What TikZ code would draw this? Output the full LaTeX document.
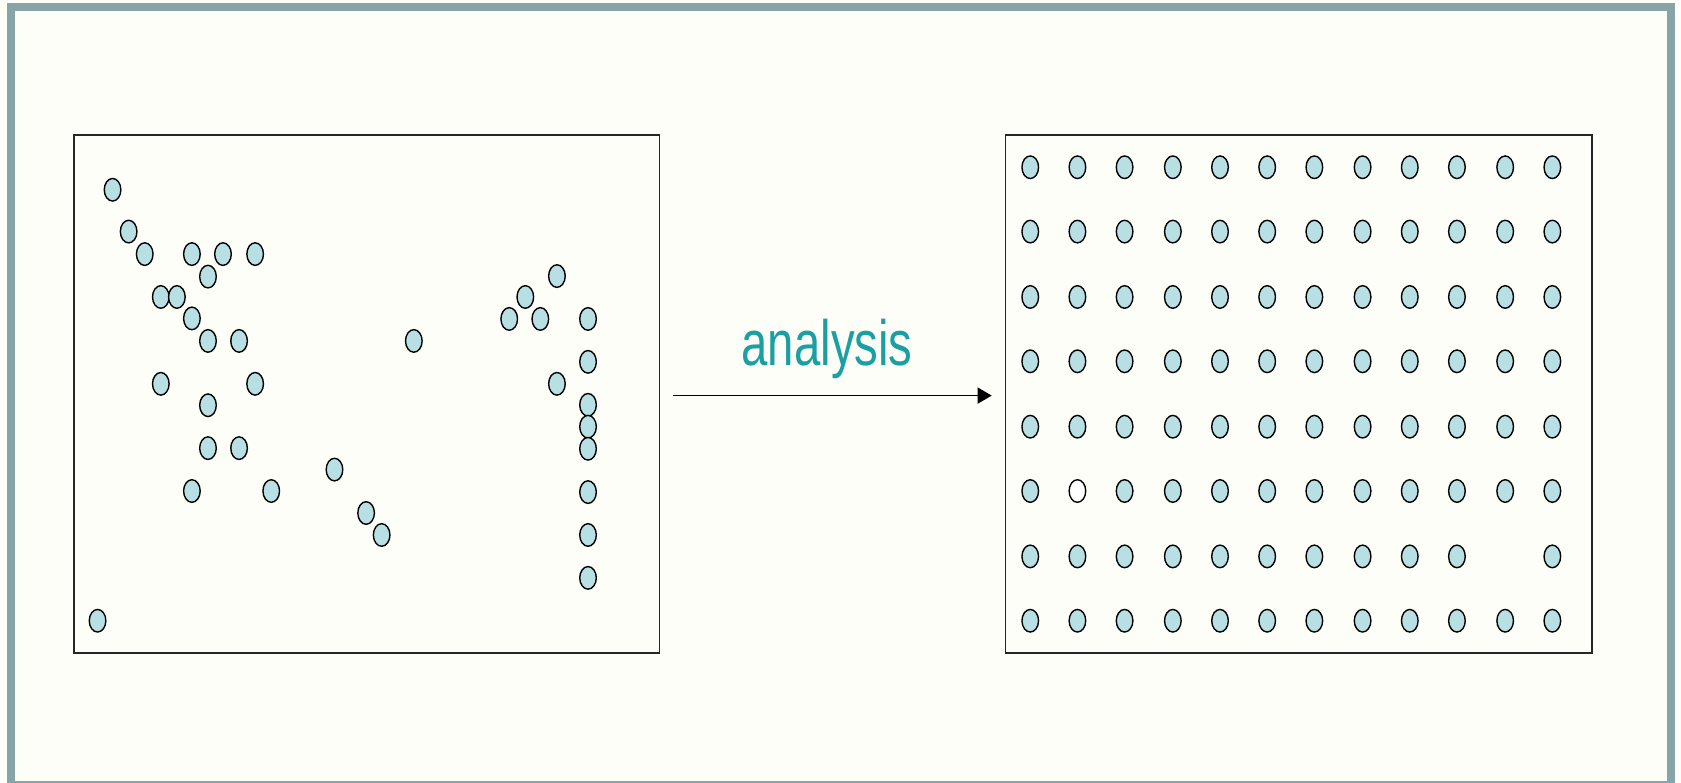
\documentclass[tikz,border=0pt]{standalone}
\usepackage{fontspec}
\setmainfont{Liberation Sans}
\usetikzlibrary{shapes.geometric,arrows.meta}
\definecolor{bgcol}{HTML}{FDFEF8}
\definecolor{framecol}{HTML}{87A4A8}
\definecolor{dotcol}{HTML}{B8DFE3}
\definecolor{labcol}{HTML}{1A9FA3}
\tikzset{
  dot/.style={ellipse,draw=black,line width=0.7pt,fill=dotcol,minimum width=8.3pt,minimum height=11.3pt,inner sep=0pt},
  hole/.style={dot,fill=white},
  panel/.style={draw=black!85,line width=0.8pt},
  flow/.style={-{Triangle[length=7pt,width=8pt]},line width=0.8pt,black}
}
\begin{document}
\begin{tikzpicture}[x=0.53605pt,y=-0.53605pt]
\useasboundingbox (0,0) rectangle (1568,730.35);
\fill[bgcol] (0,0) rectangle (1568,730.35);
\draw[framecol,line width=4pt] (9.8,6.5) rectangle (1558.6,732);
% panels
\draw[panel] (69,126) rectangle (615,609);
\draw[panel] (938,126) rectangle (1485,609);
% scattered dots
\foreach \p [count=\i] in {(105,177),(120,216),(135,237),(179,237),(208,237),(238,237),(194,258),(150,277),(165,277),(179,297),(194,318),(223,318),(150,358),(238,358),(194,378),(194,418),(223,418),(179,458),(253,458),(312,438),(341.5,478.5),(356,499),(91,579),(386,318),(475,297.5),(490,277),(504,297.5),(519.5,257.5),(548.5,297.5),(548.5,337.5),(519.5,358),(548.5,377.6),(548.5,398),(548.5,418.6),(548.5,459),(548.5,499),(548.5,539)}
  \node[dot] (s\i) at \p {};
% grid dots
\foreach \c [count=\ci] in {961,1005,1049,1094,1138,1182,1226,1271,1315,1359,1404,1448}{
  \foreach \r [count=\ri] in {156,216,277,337,398,458,519,579}{
    \ifnum\ri=7 \ifnum\ci=11 \else \node[dot] (g\ci-\ri) at (\c,\r) {};\fi
    \else\ifnum\ri=6 \ifnum\ci=2 \node[hole] (g\ci-\ri) at (\c,\r) {};\else \node[dot] (g\ci-\ri) at (\c,\r) {};\fi
    \else \node[dot] (g\ci-\ri) at (\c,\r) {};\fi\fi
  }
}
% arrow
\coordinate (astart) at (628,369);
\coordinate (aend) at (925,369);
\draw[flow] (astart) -- (aend);
\node[anchor=base,text=labcol,font=\fontsize{32}{36}\selectfont,xscale=0.74,inner sep=0pt] (lab) at (771.5,340.5) {analysis};
\end{tikzpicture}
\end{document}
